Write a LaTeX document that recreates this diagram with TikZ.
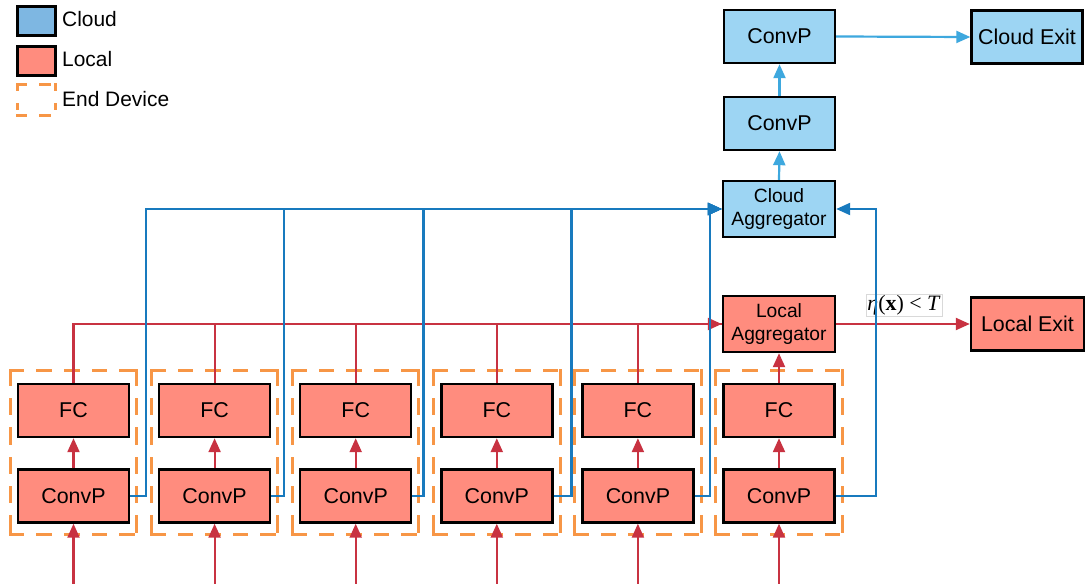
\documentclass[tikz,border=0pt]{standalone}
\usepackage{fontspec}
\setmainfont{Liberation Sans}
\newfontfamily\labelserif{Liberation Serif}
\usetikzlibrary{arrows.meta}

\definecolor{cloudfill}{RGB}{157,213,243}
\definecolor{cloudkey}{RGB}{126,183,226}
\definecolor{localfill}{RGB}{255,140,126}
\definecolor{devorange}{RGB}{247,150,70}
\definecolor{uplink}{RGB}{24,122,190}
\definecolor{cloudlink}{RGB}{62,168,222}
\definecolor{locallink}{RGB}{200,50,65}

% dashed frame drawn side by side so that every corner gets a solid dash
\newcommand\dashframe[3]{%
  \draw[devedge, dash pattern=on #2bp off 15bp] (#1.north west) -- (#1.north east);
  \draw[devedge, dash pattern=on #2bp off 15bp] (#1.south west) -- (#1.south east);
  \draw[devedge, dash pattern=on #3bp off 15bp] (#1.north west) -- (#1.south west);
  \draw[devedge, dash pattern=on #3bp off 15bp] (#1.north east) -- (#1.south east);
}

\begin{document}
\begin{tikzpicture}[x=1bp,y=-1bp,
  layer/.style={draw=black, line width=2.4bp, minimum width=111bp, minimum height=53bp,
    inner sep=0pt, font=\fontsize{21.5}{24}\selectfont, align=center},
  cloudbox/.style={layer, fill=cloudfill},
  localbox/.style={layer, fill=localfill},
  aggbox/.style={font=\fontsize{19.3}{22.5}\selectfont, minimum width=112bp, minimum height=56bp},
  device/.style={minimum width=126bp, minimum height=164bp, inner sep=0pt},
  devedge/.style={draw=devorange, line width=3bp, line cap=rect},
  keybox/.style={draw=black, line width=2.4bp, minimum width=38bp, minimum height=29bp, inner sep=0pt},
  keyframe/.style={minimum width=38bp, minimum height=30bp, inner sep=0pt},
  keytext/.style={anchor=west, inner sep=0pt, font=\fontsize{21}{24}\selectfont},
  tip/.style={-{Triangle[length=14bp,width=12bp]}},
  uplinkline/.style={draw=uplink, line width=2.2bp},
  cloudline/.style={tip, draw=cloudlink, line width=2.2bp},
  localline/.style={draw=locallink, line width=2.2bp},
]
\path[use as bounding box, fill=white] (0,0) rectangle (1086,584);

% legend
\node[keybox, fill=cloudkey] (keycloud) at (36.5,21) {};
\node[keytext] (keycloudtxt) at (62,19) {Cloud};
\node[keybox, fill=localfill] (keylocal) at (36.5,61) {};
\node[keytext] (keylocaltxt) at (62,59) {Local};
\node[keyframe] (keydev) at (36.5,100) {};
\dashframe{keydev}{8.5}{4.5}
\node[keytext] (keydevtxt) at (62,99) {End Device};

% cloud side
\node[cloudbox] (cconvA) at (779.5,36.5) {ConvP};
\node[cloudbox] (cexit) at (1027,37) {Cloud Exit};
\node[cloudbox] (cconvB) at (779.5,123.5) {ConvP};
\node[cloudbox, aggbox] (cagg) at (779,209) {Cloud\\Aggregator};

% local side
\node[localbox, aggbox] (lagg) at (779,324) {Local\\Aggregator};
\node[localbox, minimum width=113bp] (lexit) at (1027.5,324) {Local Exit};

% end devices
\foreach \i/\cx in {1/73.5,2/214.6,3/355.7,4/496.8,5/637.9,6/779}{
  \node[device] (dev\i) at (\cx,452.5) {};
  \dashframe{dev\i}{12.6}{14.3}
  \node[localbox] (fc\i) at (\cx,410.5) {FC};
  \node[localbox] (cv\i) at (\cx,496) {ConvP};
  \coordinate (in\i) at (\cx,584);
}

% local paths
\foreach \i in {1,...,6}{
  \draw[localline, tip] (in\i) -- (cv\i.south);
  \draw[localline, tip] (cv\i.north) -- (fc\i.south);
}
\draw[localline, tip] (fc1.north) |- (lagg.west);
\foreach \i in {2,...,5}{
  \draw[localline] (fc\i.north) |- (lagg.west);
}
\draw[localline, tip] (fc6.north) -- (lagg.south);
\draw[localline, tip] (lagg.east) -- (lexit.west);
\node[fill=white, draw=black!15, line width=0.6bp, inner sep=1.2bp, font=\labelserif\fontsize{22}{24}\selectfont]
  (thresh) at (904,305) {\textit{η}(\textbf{x}) < \textit{T}};

% uplinks to the cloud
\foreach \i/\off in {1/16,2/13,3/11,4/18,5/15}{
  \draw[uplinkline, tip] (cv\i.east) -- ++(\off,0) |- (cagg.west);
}
\draw[uplinkline, tip] (cv6.east) -- ++(40.5,0) |- (cagg.east);

% cloud paths
\draw[cloudline] (cagg.north) -- (cconvB.south);
\draw[cloudline] (cconvB.north) -- (cconvA.south);
\draw[cloudline] (cconvA.east) -- (cexit.west);
\end{tikzpicture}
\end{document}
